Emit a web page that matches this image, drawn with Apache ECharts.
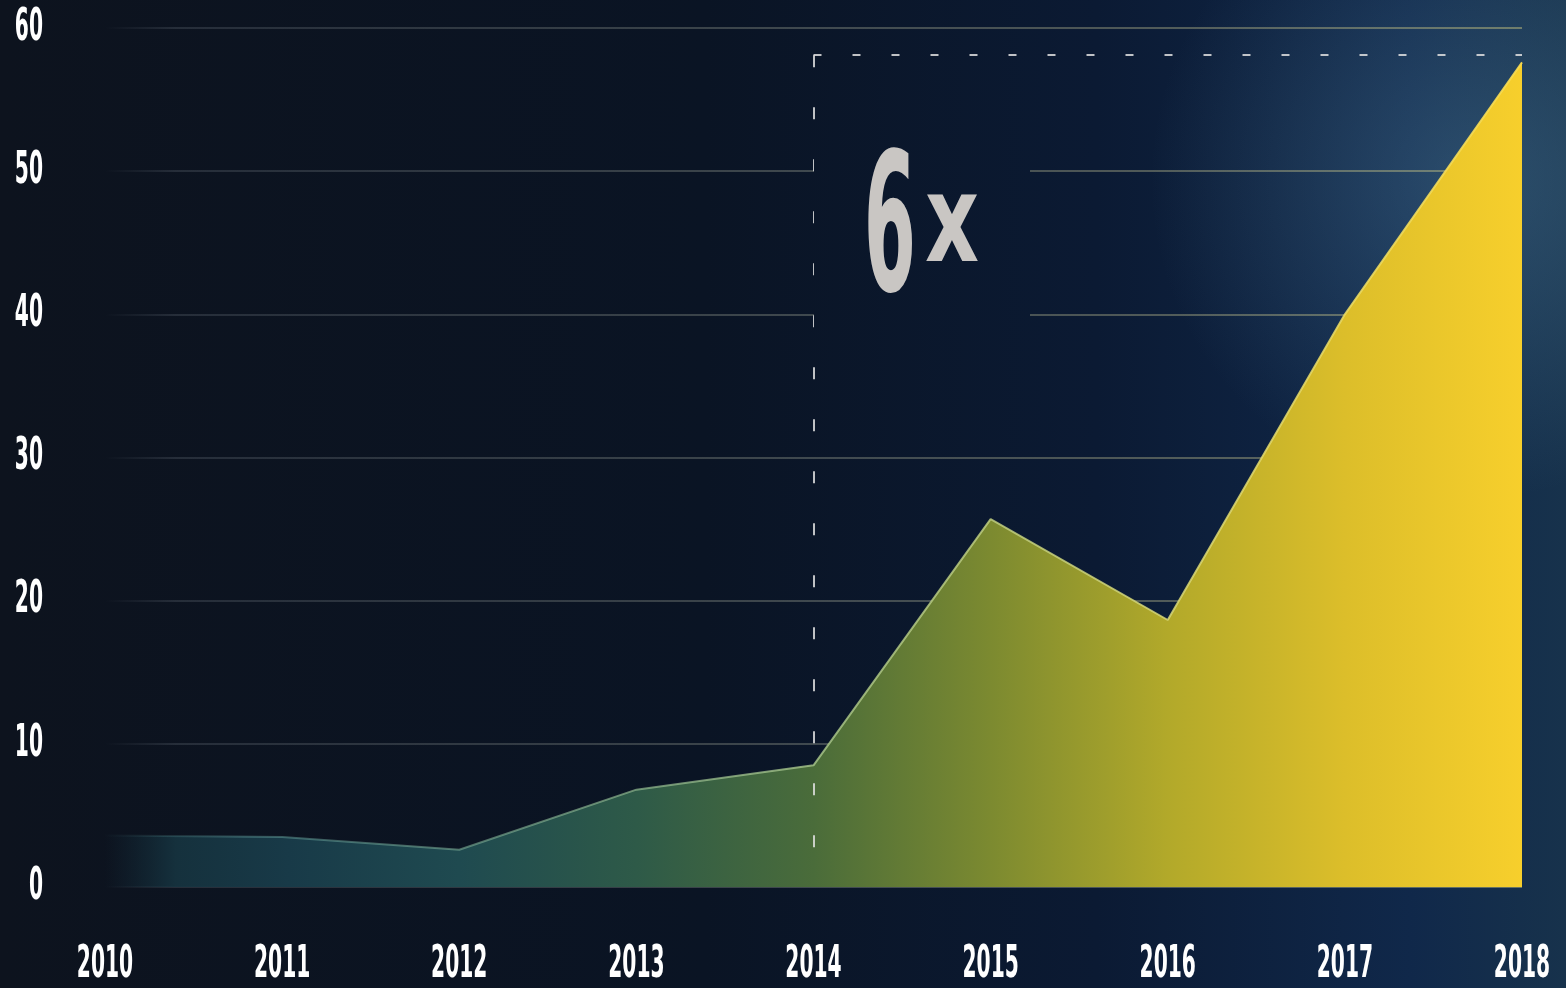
<!DOCTYPE html>
<html>
<head>
<meta charset="utf-8">
<style>
  html, body { margin: 0; padding: 0; background: #0b1220; }
  #chart { width: 1566px; height: 988px; }
</style>
<script src="https://cdn.jsdelivr.net/npm/echarts@6/dist/echarts.min.js"></script>
</head>
<body>
<div id="chart"></div>
<script>
const years = ['2010', '2011', '2012', '2013', '2014', '2015', '2016', '2017', '2018'];
const values = [3.6, 3.5, 2.6, 6.8, 8.5, 25.7, 18.65, 40, 57.6];
const yTicks = { min: 0, max: 60, interval: 10 };
const refYear = '2014';
const refLevel = 58.1;
const growthLabel = ['6', 'x'];

const FONT = "'DejaVu Sans Condensed', 'DejaVu Sans', sans-serif";

const bgStops = [
  { offset: 0, color: '#0d131e' },
  { offset: 0.45, color: '#0a1424' },
  { offset: 0.7, color: '#0b1a33' },
  { offset: 0.9, color: '#10284a' },
  { offset: 1, color: '#17324c' }
];
const bgGrad = { type: 'linear', x: 0, y: 0, x2: 1566, y2: 0, global: true, colorStops: bgStops };

const chart = echarts.init(document.getElementById('chart'));
chart.setOption({
  animation: false,
  grid: { left: 105, right: 44, top: 28, bottom: 101, containLabel: false, outerBoundsMode: 'none' },
  xAxis: {
    type: 'category',
    data: years,
    boundaryGap: false,
    axisLine: { show: false },
    axisTick: { show: false },
    splitLine: { show: false },
    axisLabel: { show: false }
  },
  yAxis: {
    type: 'value',
    min: yTicks.min, max: yTicks.max, interval: yTicks.interval,
    z: 3,
    axisLine: { show: false },
    axisTick: { show: false },
    axisLabel: { show: false },
    splitLine: { lineStyle: { width: 1.5, color: { type: 'linear', x: 105, y: 0, x2: 1522, y2: 0, global: true, colorStops: [
      { offset: 0, color: 'rgba(150,160,170,0.0)' },
      { offset: 0.05, color: 'rgba(150,160,170,0.25)' },
      { offset: 0.5, color: 'rgba(190,195,170,0.4)' },
      { offset: 1, color: 'rgba(225,215,130,0.55)' }] } } }
  },
  series: [{
    type: 'line',
    data: values,
    symbol: 'none',
    lineStyle: { width: 2, color: { type: 'linear', x: 0, y: 0, x2: 1, y2: 0, colorStops: [
      { offset: 0, color: 'rgba(90,150,150,0)' },
      { offset: 0.1, color: 'rgba(90,150,150,0.5)' },
      { offset: 0.5, color: 'rgba(170,200,140,0.8)' },
      { offset: 0.75, color: 'rgba(215,215,120,0.85)' },
      { offset: 1, color: 'rgba(250,220,80,0.9)' }] } },
    areaStyle: { opacity: 1, color: { type: 'linear', x: 0, y: 0, x2: 1, y2: 0, colorStops: [
      { offset: 0, color: 'rgba(20,45,58,0)' },
      { offset: 0.05, color: 'rgba(22,52,64,0.9)' },
      { offset: 0.13, color: '#183a48' },
      { offset: 0.25, color: '#1f4a50' },
      { offset: 0.375, color: '#2e5a48' },
      { offset: 0.5, color: '#4a6c3a' },
      { offset: 0.625, color: '#7c8a30' },
      { offset: 0.75, color: '#b2a92a' },
      { offset: 0.875, color: '#dcbe2a' },
      { offset: 1, color: '#f7cf2c' }] } },
    markLine: {
      silent: true,
      symbol: 'none',
      label: { show: false },
      lineStyle: { color: 'rgba(225,225,225,0.85)', width: 2, type: [8, 31] },
      data: [
        [{ coord: [refYear, refLevel] }, { coord: [years[years.length - 1], refLevel] }],
        [{ coord: [refYear, refLevel], lineStyle: { type: [12, 40] } }, { coord: [refYear, 0] }]
      ]
    }
  }]
});

// Background, annotation and tick labels (tick positions taken from the chart's own axes)
const graphics = [
  { type: 'rect', z: -100, silent: true, shape: { x: 0, y: 0, width: 1566, height: 988 }, style: { fill: bgGrad } },
  { type: 'circle', z: -99, silent: true, shape: { cx: 1470, cy: 180, r: 320 },
    style: { fill: { type: 'radial', x: 0.5, y: 0.5, r: 0.5, colorStops: [
      { offset: 0, color: 'rgba(90,140,170,0.35)' }, { offset: 1, color: 'rgba(90,140,170,0)' }] } } },
  { type: 'rect', z: 10, silent: true, shape: { x: 814, y: 150, width: 216, height: 180 }, style: { fill: bgGrad } },
  { type: 'text', z: 11, silent: true, x: 890, y: 240, scaleX: 0.435,
    style: { text: growthLabel[0], x: 0, y: 0, fill: '#c9c6c3', font: 'bold 192px ' + FONT, textAlign: 'center', textVerticalAlign: 'middle' } },
  { type: 'text', z: 11, silent: true, x: 952, y: 230, scaleX: 0.77,
    style: { text: growthLabel[1], x: 0, y: 0, fill: '#c9c6c3', font: 'bold 121px ' + FONT, textAlign: 'center', textVerticalAlign: 'middle' } }
];
const labelFont = 'bold 45px ' + FONT;
years.forEach(function (yr) {
  const px = chart.convertToPixel({ xAxisIndex: 0 }, yr);
  graphics.push({ type: 'text', z: 12, silent: true, x: px, y: 965, scaleX: 0.5,
    style: { text: yr, x: 0, y: 0, fill: '#ffffff', font: labelFont, textAlign: 'center', textVerticalAlign: 'middle' } });
});
for (let v = yTicks.min; v <= yTicks.max; v += yTicks.interval) {
  const py = chart.convertToPixel({ yAxisIndex: 0 }, v);
  graphics.push({ type: 'text', z: 12, silent: true, x: 43, y: py, scaleX: 0.5,
    style: { text: String(v), x: 0, y: 0, fill: '#ffffff', font: labelFont, textAlign: 'right', textVerticalAlign: 'middle' } });
}
chart.setOption({ graphic: graphics });
</script>
</body>
</html>
